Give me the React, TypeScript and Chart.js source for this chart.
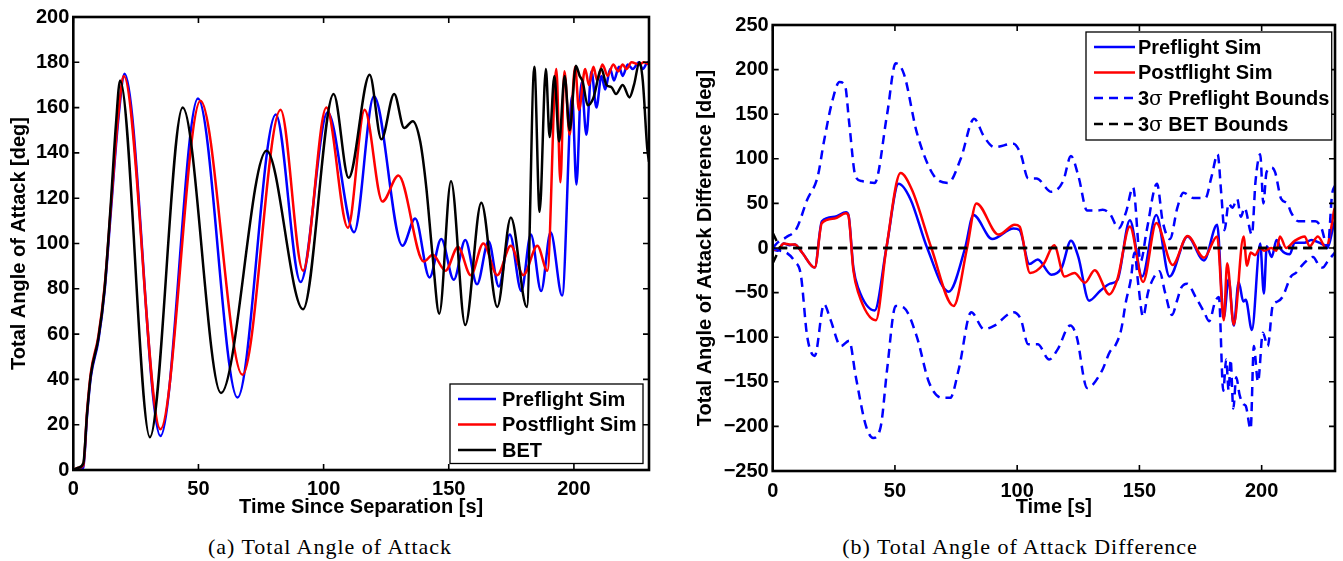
import React, { useEffect, useRef } from 'react';
import { Chart, registerables } from 'chart.js';

Chart.register(...registerables);

// ---------- Panel (a): Total Angle of Attack [deg] vs time [s] ----------
const timeTicks = [0, 50, 100, 150, 200];
const aoaYTicks = [0, 20, 40, 60, 80, 100, 120, 140, 160, 180, 200];

const preflightAoA = [
  [0, 0], [2, 0.5], [4, 1], [5.5, 24], [7, 41], [10, 57], [12.5, 79], [15, 114], [18, 155], [20.5, 175],
  [34.8, 15], [49.8, 164], [65.6, 32], [80.9, 157], [90.8, 83], [101.6, 158], [112.2, 105], [120.1, 165],
  [131.5, 99], [136.6, 111], [142.3, 85], [147, 102], [152, 84], [156.6, 101.5], [161.3, 82], [165.9, 101],
  [170, 81], [174.4, 104], [179, 79], [182.8, 104], [186.9, 79], [190.7, 105], [195.3, 77], [199.3, 165],
  [201, 126], [203, 171], [205, 148], [207, 176], [209, 160], [211, 174], [212.5, 168], [214.5, 177], [216, 172],
  [218, 178], [219.5, 174], [221.5, 179], [223.5, 177], [226, 180], [227.5, 177], [229.5, 180], [230, 179.5],
];

const postflightAoA = [
  [0, 0], [2, 1], [4, 2], [5.5, 26], [7, 43], [10, 59], [12.5, 81], [15, 116], [18, 157], [20.2, 174],
  [34.8, 18], [50.8, 163], [67.6, 42], [82.8, 159], [91.8, 88], [101.1, 160], [109.7, 107], [116.4, 159],
  [123.5, 118.5], [129.9, 130], [140, 92], [143.6, 95], [148.7, 88], [153.7, 98.5], [158.8, 86], [163.8, 100],
  [169.4, 86], [174.8, 99], [179.8, 86], [185.4, 99], [189.4, 88], [193, 177], [194.6, 127], [196.2, 176],
  [198.3, 148], [200.5, 178], [202, 159], [204.5, 177], [206, 170], [207.8, 178], [209.3, 172], [211.4, 179],
  [213.5, 174], [215.7, 179], [217.7, 176], [219.5, 179], [221, 177], [223, 180], [226, 179], [228, 180], [230, 179],
];

const betAoA = [
  [0, 0], [2, 1], [4, 3], [5.5, 25], [7, 42], [10, 58], [12.5, 80], [15, 118], [17, 152], [18.7, 172],
  [30.6, 14.5], [43.7, 160], [59, 34], [77.2, 141], [91.8, 71], [104, 166], [110, 129], [118.4, 174.5],
  [123.1, 146], [128.2, 166], [132.2, 151], [135.6, 154], [138.6, 145], [141, 125], [143.5, 95], [146.2, 69],
  [150.9, 127.5], [156.6, 64], [163, 118], [169.4, 72], [174.8, 111.5], [181.2, 72], [184.2, 178], [186.3, 114],
  [188.8, 177], [190.3, 147], [192.2, 174], [194.1, 145], [196.3, 174], [198.3, 150], [200.8, 178.5], [202.3, 174],
  [203.5, 171.5], [205.5, 161], [207.7, 164], [211, 177], [213, 170], [215, 169], [216.8, 166], [219.5, 170],
  [222.2, 164.5], [224, 170], [226.2, 180], [227.5, 172], [229.3, 142], [230, 136],
];

// ---------- Panel (b): Total Angle of Attack Difference [deg] vs time [s] ----------
const diffYTicks = [-250, -200, -150, -100, -50, 0, 50, 100, 150, 200, 250];
const diffYTickLabels = ['\u2212250', '\u2212200', '\u2212150', '\u2212100', '\u221250', '0', '50', '100', '150', '200', '250'];

const preflightDiff = [
  [0, -2], [2, -3], [4.5, 5], [7, 3], [9, 4], [12, -5], [17.2, -22], [20.1, 30], [25.3, 35], [30, 40], [31, 37],
  [33, -22], [35, -45], [41.7, -70], [46.5, 0], [51.5, 72], [56.3, 55], [63.2, 0], [72, -49], [78.7, 0], [82.1, 37],
  [89.8, 10], [98.5, 22], [101, 20], [105, -18], [108.4, -13], [114, -30], [118.2, -22], [122, 8], [125, -10],
  [129.4, -59], [134, -48], [138, -40], [141, -36], [146.1, 31], [151.1, -32], [156.9, 37], [162.3, -32],
  [169.7, 13], [176.4, -14], [181.8, 26], [184.5, -78], [186.5, -35], [188.6, -87], [190.6, -38], [192.5, -60],
  [193.5, -58], [196, -92], [199.4, 5], [200.9, -51], [202.1, 2], [204.1, -10], [206.1, 9], [208, -2], [211.5, -7],
  [213.5, 6], [217.6, 6], [220.3, 9], [224.3, 5], [227, 2], [229.7, 28], [230, 30],
];

const postflightDiff = [
  [0, -1], [2, -2], [4.5, 5], [7, 4], [9, 4], [12, -5], [17.2, -22], [20.1, 28], [25.3, 33], [30, 39], [31, 36],
  [33, -25], [35, -50], [42.2, -81], [46.5, 0], [52.3, 84], [57, 65], [64.9, 0], [74, -65], [79.5, 0], [83.3, 50],
  [92.4, 15], [99, 26], [101, 24], [105.3, -28], [110.8, -18], [115.1, 3], [119.4, -32], [123.4, -28], [127.7, -39],
  [131.7, -25], [137.7, -52], [141, -35], [146.1, 24], [151.5, -38], [156.9, 28], [163.6, -19], [169.7, 13.5],
  [176.4, -11], [181.8, 13], [184.5, -81], [185.9, -17], [188.6, -86], [192.6, 13], [194, -20], [195.5, -5],
  [197.3, -8], [199.4, 0], [201, -3], [204, 0], [206, -3], [207.5, 13], [210, 0], [213.5, 8], [217.6, 13],
  [219.6, 2], [223, 13], [226.4, 0], [228.4, 22], [229.7, 43], [230, 45],
];

const preflightBoundUpper = [
  [0, 0], [2, 6], [5.5, 12], [9.8, 22], [14.1, 54], [18.4, 80], [21, 120], [24.4, 165], [27.3, 186], [29.6, 182],
  [31.3, 140], [33.9, 80], [36.5, 75], [41.7, 73], [46.8, 150], [50.3, 207], [53.7, 195], [58.9, 130], [65.7, 82],
  [71.8, 73], [76.9, 100], [82.4, 145], [86.4, 125], [90.7, 113], [98.5, 117], [101.5, 105], [104.5, 78], [107.9, 78],
  [114, 63], [118.8, 75], [122, 103], [125.1, 80], [128.6, 42], [132.9, 42], [135, 43], [138, 38], [141.5, 22],
  [144.5, 40], [147.4, 68], [150.5, -15], [153, 20], [157.2, 72], [159.5, 30], [162.5, 10], [165.5, 45], [168, 62],
  [172, 56], [177, 56], [179.5, 80], [182, 105], [183.5, 60], [184.8, 20], [186.5, 50], [188, 45], [190, 55],
  [191.5, 35], [193, 45], [196, 15], [197.5, 75], [199.4, 105], [200.7, 50], [202, 85], [204.1, 90], [205.5, 85],
  [208, 55], [210.5, 50], [212, 40], [215, 30], [219, 30], [222, 30], [224.5, 22], [227, 0], [228.8, 60], [230, 70],
];

const preflightBoundLower = [
  [0, 0], [3, -3], [5.5, -5], [9, -15], [11.5, -30], [14.1, -99], [17.2, -121], [21, -63], [23.6, -80], [27.9, -110],
  [31.3, -104], [33.9, -143], [38.2, -200], [41.1, -213], [44.2, -200], [46.8, -136], [50.3, -65], [53.7, -67],
  [58.9, -99], [64, -151], [69.2, -168], [72.6, -168], [76.1, -136], [81.2, -72], [86.4, -91], [90.7, -87],
  [98.5, -72], [101.5, -80], [104.5, -108], [108.4, -108], [113.1, -125], [116.5, -114], [121.7, -87],
  [124.3, -99], [128.6, -157], [134.6, -138], [138, -116], [140, -110], [142.5, -92], [144.5, -60], [146.5, -35],
  [148, -5], [149.5, -40], [151.5, -77], [153.5, -50], [155.5, -35], [158.2, -26], [160.5, -50], [163.3, -75],
  [165.5, -58], [167, -45], [169.5, -40], [173, -55], [176.5, -72], [178.5, -82], [181, -60], [182.5, -55],
  [184.3, -160], [185.5, -125], [186.5, -160], [187.3, -125], [188.4, -180], [189.6, -145], [191, -165],
  [192.5, -175], [193.5, -177], [195.5, -203], [196.8, -110], [198.5, -150], [200.5, -95], [202.5, -110],
  [204.5, -65], [206.5, -60], [208.5, -55], [212, -32], [214, -28], [217, -18], [221, -10], [223.5, -20],
  [225, -22], [227, -15], [230, -5],
];

const betBoundUpper = [[0, 17], [3, 0], [230, 0]];
const betBoundLower = [[0, -17], [3, 0], [230, 0]];

// ---------- drawing helpers ----------
const SANS = "'Liberation Sans', Arial, Helvetica, sans-serif";
const BLUE = '#0000ff';
const RED = '#ff0000';
const BLACK = '#000000';
const DASH = [9, 6];

const pts = (a: number[][]) => a.map(([x, y]) => ({ x, y }));

function drawLabel(ctx: CanvasRenderingContext2D, text: string, x: number, y: number) {
  ctx.fillStyle = '#000';
  ctx.textBaseline = 'middle';
  ctx.textAlign = 'left';
  const parts = text.split('\u03c3');
  let cx = x;
  parts.forEach((p, i) => {
    if (i > 0) {
      ctx.font = "20px 'DejaVu Serif', serif";
      ctx.fillText('\u03c3', cx, y + 1);
      cx += ctx.measureText('\u03c3').width;
    }
    ctx.font = `bold 20px ${SANS}`;
    ctx.fillText(p, cx, y);
    cx += ctx.measureText(p).width;
  });
}

const framePlugin = {
  id: 'matlabFrame',
  afterDatasetsDraw(chart: any, _args: any, opts: any) {
    const { ctx, chartArea: a } = chart;
    const xs = chart.scales.x;
    const ys = chart.scales.y;
    ctx.save();
    ctx.strokeStyle = '#000';
    ctx.setLineDash([]);
    ctx.lineWidth = 1.6;
    const tl = 6;
    ctx.beginPath();
    xs.ticks.forEach((t: any) => {
      const px = xs.getPixelForValue(t.value);
      ctx.moveTo(px, a.bottom);
      ctx.lineTo(px, a.bottom - tl);
      ctx.moveTo(px, a.top);
      ctx.lineTo(px, a.top + tl);
    });
    ys.ticks.forEach((t: any) => {
      const py = ys.getPixelForValue(t.value);
      ctx.moveTo(a.left, py);
      ctx.lineTo(a.left + tl, py);
      ctx.moveTo(a.right, py);
      ctx.lineTo(a.right - tl, py);
    });
    ctx.stroke();
    ctx.lineWidth = 2.6;
    ctx.strokeRect(a.left, a.top, a.right - a.left, a.bottom - a.top);

    const lg = opts && opts.legend;
    if (lg) {
      const [x0, y0, x1, y1] = lg.box;
      ctx.fillStyle = '#fff';
      ctx.fillRect(x0, y0, x1 - x0, y1 - y0);
      ctx.lineWidth = 1.3;
      ctx.strokeStyle = '#000';
      ctx.strokeRect(x0, y0, x1 - x0, y1 - y0);
      const items = chart.data.datasets.filter((d: any) => !d.hideInLegend);
      items.forEach((d: any, i: number) => {
        const y = lg.rows[i];
        ctx.strokeStyle = d.borderColor;
        ctx.lineWidth = 2.6;
        ctx.setLineDash(d.borderDash || []);
        ctx.beginPath();
        ctx.moveTo(lg.line[0], y - 1);
        ctx.lineTo(lg.line[1], y - 1);
        ctx.stroke();
        ctx.setLineDash([]);
        drawLabel(ctx, d.label, lg.textX, y);
      });
    }
    ctx.restore();
  },
};

function xScale(height: number, tickPad: number, title: string) {
  return {
    type: 'linear',
    min: 0,
    max: 230,
    grid: { display: false, drawTicks: false },
    border: { display: false },
    afterBuildTicks: (s: any) => {
      s.ticks = timeTicks.map((v) => ({ value: v }));
    },
    afterFit: (s: any) => {
      s.height = height;
    },
    ticks: {
      color: '#000',
      font: { family: SANS, size: 20, weight: 'bold' },
      padding: tickPad,
      autoSkip: false,
      maxRotation: 0,
      callback: (v: any) => String(v),
    },
    title: {
      display: true,
      text: title,
      color: '#000',
      font: { family: SANS, size: 20, weight: 'bold' },
      padding: { top: 0, bottom: 11 },
    },
  };
}

function yScale(min: number, max: number, ticks: number[], labels: string[], width: number, titlePad: number, title: string) {
  return {
    type: 'linear',
    min,
    max,
    grid: { display: false, drawTicks: false },
    border: { display: false },
    afterBuildTicks: (s: any) => {
      s.ticks = ticks.map((v) => ({ value: v }));
    },
    afterFit: (s: any) => {
      s.width = width;
    },
    ticks: {
      color: '#000',
      font: { family: SANS, size: 20, weight: 'bold' },
      padding: 4,
      autoSkip: false,
      callback: (v: any) => {
        const i = ticks.indexOf(Number(v));
        return i >= 0 ? labels[i] : String(v);
      },
    },
    title: {
      display: true,
      text: title,
      color: '#000',
      font: { family: SANS, size: 20, weight: 'bold' },
      padding: { top: titlePad, bottom: 0 },
    },
  };
}

const lineCommon = {
  borderWidth: 2.5,
  pointRadius: 0,
  fill: false,
  cubicInterpolationMode: 'monotone',
};

const CANVAS_H = 530;

function makeLeftConfig(): any {
  return {
    type: 'line',
    data: {
      datasets: [
        { ...lineCommon, label: 'Preflight Sim', data: pts(preflightAoA), borderColor: BLUE, order: 2 },
        { ...lineCommon, label: 'Postflight Sim', data: pts(postflightAoA), borderColor: RED, order: 1 },
        { ...lineCommon, label: 'BET', data: pts(betAoA), borderColor: BLACK, order: 0 },
      ],
    },
    options: {
      animation: false,
      responsive: false,
      devicePixelRatio: 1,
      layout: { padding: { top: 17, right: 16, bottom: 0, left: 0 } },
      plugins: {
        legend: { display: false },
        tooltip: { enabled: false },
        matlabFrame: {
          legend: { box: [450, 384, 643, 463.5], rows: [400, 425.5, 451], line: [458, 496], textX: 502 },
        },
      },
      scales: {
        x: xScale(CANVAS_H - 470, 7, 'Time Since Separation [s]'),
        y: yScale(0, 200, aoaYTicks, aoaYTicks.map(String), 73.3, 7, 'Total Angle of Attack [deg]'),
      },
    },
    plugins: [framePlugin],
  };
}

function makeRightConfig(): any {
  return {
    type: 'line',
    data: {
      datasets: [
        { ...lineCommon, label: 'Preflight Sim', data: pts(preflightDiff), borderColor: BLUE, order: 3 },
        { ...lineCommon, label: 'Postflight Sim', data: pts(postflightDiff), borderColor: RED, order: 2 },
        { ...lineCommon, label: '3\u03c3 Preflight Bounds', data: pts(preflightBoundUpper), borderColor: BLUE, borderDash: DASH, order: 1 },
        { ...lineCommon, label: '3\u03c3 BET Bounds', data: pts(betBoundUpper), borderColor: BLACK, borderDash: DASH, order: 0, cubicInterpolationMode: 'default', tension: 0 },
        { ...lineCommon, label: '3\u03c3 Preflight Bounds (lower)', data: pts(preflightBoundLower), borderColor: BLUE, borderDash: DASH, order: 1, hideInLegend: true },
        { ...lineCommon, label: '3\u03c3 BET Bounds (lower)', data: pts(betBoundLower), borderColor: BLACK, borderDash: DASH, order: 0, hideInLegend: true, cubicInterpolationMode: 'default', tension: 0 },
      ],
    },
    options: {
      animation: false,
      responsive: false,
      devicePixelRatio: 1,
      layout: { padding: { top: 25, right: 8, bottom: 0, left: 0 } },
      plugins: {
        legend: { display: false },
        tooltip: { enabled: false },
        matlabFrame: {
          legend: { box: [406, 32, 651.7, 140], rows: [48, 73.5, 99, 125], line: [414, 455], textX: 458 },
        },
      },
      scales: {
        x: xScale(CANVAS_H - 471, 8, 'Time [s]'),
        y: yScale(-250, 250, diffYTicks, diffYTickLabels, 92.7, 13, 'Total Angle of Attack Difference [deg]'),
      },
    },
    plugins: [framePlugin],
  };
}

function ChartCanvas({ make, left, width }: { make: () => any; left: number; width: number }) {
  const ref = useRef<HTMLCanvasElement>(null);
  useEffect(() => {
    if (!ref.current) return;
    const chart = new Chart(ref.current, make());
    return () => chart.destroy();
  }, [make]);
  return (
    <canvas
      ref={ref}
      width={width}
      height={CANVAS_H}
      style={{ position: 'absolute', left, top: 0, width, height: CANVAS_H }}
    />
  );
}

const captionStyle: React.CSSProperties = {
  position: 'absolute',
  top: 536,
  width: 420,
  textAlign: 'center',
  font: "22px 'Liberation Serif', 'Times New Roman', serif",
  letterSpacing: '1px',
  lineHeight: '22px',
  color: '#000',
  whiteSpace: 'nowrap',
};

export default function App() {
  return (
    <div
      style={{
        position: 'absolute',
        left: 0,
        top: 0,
        width: 1343,
        height: 561,
        background: '#fff',
        overflow: 'hidden',
      }}
    >
      <ChartCanvas make={makeLeftConfig} left={0} width={665} />
      <ChartCanvas make={makeRightConfig} left={680} width={663} />
      <div style={{ ...captionStyle, left: 330 - 210 }}>(a) Total Angle of Attack</div>
      <div style={{ ...captionStyle, left: 1020 - 210 }}>(b) Total Angle of Attack Difference</div>
    </div>
  );
}
